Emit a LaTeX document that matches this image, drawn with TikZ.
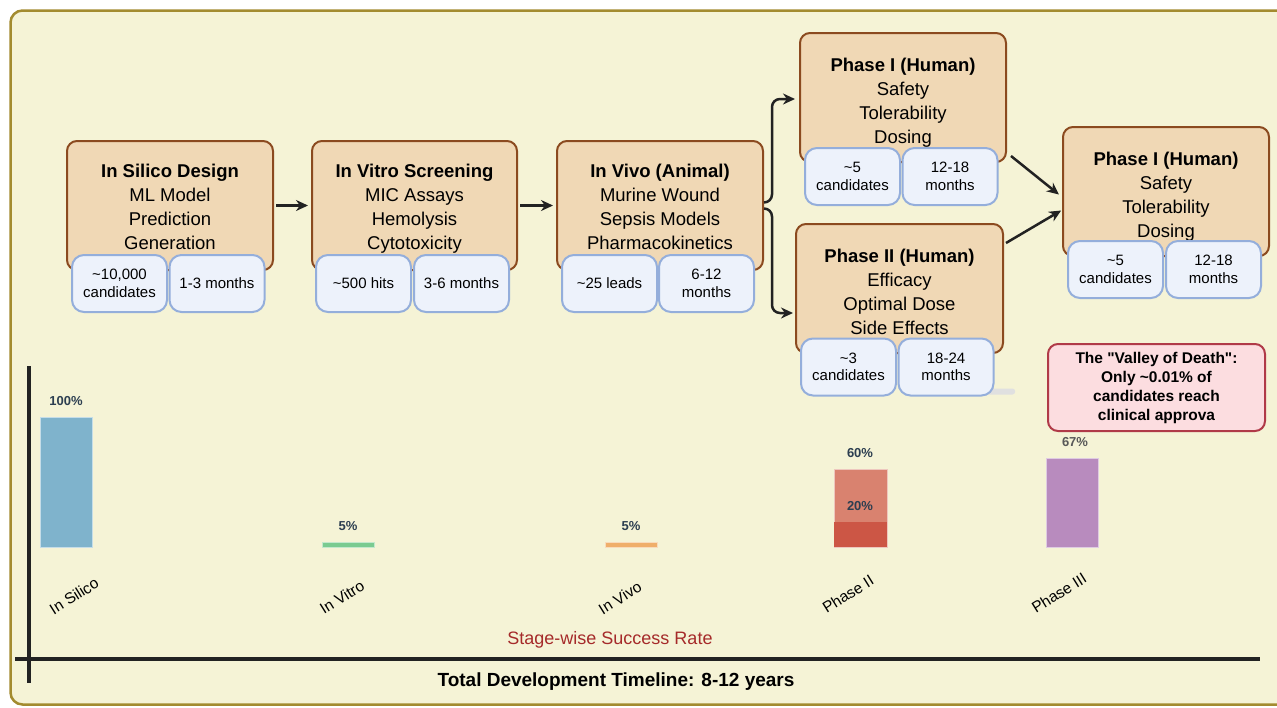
\documentclass[tikz,border=0pt]{standalone}
\usepackage{fontspec}
\setmainfont{Liberation Sans}
\usetikzlibrary{arrows.meta}

\definecolor{pagebg}{HTML}{F5F3D6}
\definecolor{framecol}{HTML}{A38B2F}
\definecolor{stagefill}{HTML}{F0D8B5}
\definecolor{stageline}{HTML}{8B4A1F}
\definecolor{subfill}{HTML}{EDF2FB}
\definecolor{subline}{HTML}{94AEDB}
\definecolor{warnfill}{HTML}{FCDDE0}
\definecolor{warnline}{HTML}{B03A48}
\definecolor{inkdark}{HTML}{222222}
\definecolor{barlabel}{HTML}{2C3E50}
\definecolor{barsilico}{HTML}{7FB3CC}
\definecolor{barvitro}{HTML}{7ACB91}
\definecolor{barvivo}{HTML}{EFAE6A}
\definecolor{barphtwo}{HTML}{D9826F}
\definecolor{barphtwodark}{HTML}{CC5645}
\definecolor{barphthree}{HTML}{B88BBE}
\definecolor{axistitle}{HTML}{A52A2A}

\begin{document}
\begin{tikzpicture}[x=1pt,y=-1pt,
  stagebox/.style={draw=stageline, fill=stagefill, line width=2pt, rounded corners=10pt,
    minimum width=206pt, minimum height=129pt, inner sep=0pt},
  stagetext/.style={align=center, inner sep=0pt, text=black, text depth=0pt,
    font=\fontsize{18.5}{24}\selectfont},
  subbox/.style={draw=subline, fill=subfill, line width=2pt, rounded corners=12pt,
    minimum width=95pt, minimum height=57pt, inner sep=0pt, align=center,
    font=\fontsize{15}{17.5}\selectfont},
  flow/.style={draw=inkdark, line width=2.5pt, -{Stealth[length=12pt,width=11pt]}},
  pct/.style={font=\bfseries\fontsize{13}{15}\selectfont, text=barlabel, inner sep=0pt},
  ticklab/.style={font=\fontsize{15.5}{18}\selectfont, rotate=32, inner sep=0pt},
  bar/.style={draw=white!55!#1, line width=0.8pt, fill=#1}
]
\useasboundingbox (0,0) rectangle (1277,707);

% panel
\draw[framecol, line width=2.5pt, fill=pagebg, rounded corners=12pt] (10.5,10.5) rectangle (1300,704.5);

% ---------- pipeline stages ----------
\node[stagebox] (silico) at (170,205.5) {};
\node[stagetext] (silicoT) at (170,207) {\textbf{In Silico Design}\\ML Model\\Prediction\\Generation};
\node[subbox] (silicoA) at (119.5,283.5) {\textasciitilde10,000\\candidates};
\node[subbox] (silicoB) at (217,283.5) {1-3 months};

\node[stagebox, minimum width=205pt] (vitro) at (414.5,205.5) {};
\node[stagetext] (vitroT) at (414.5,207) {\textbf{In Vitro Screening}\\MIC Assays\\Hemolysis\\Cytotoxicity};
\node[subbox] (vitroA) at (363.5,283.5) {\textasciitilde500 hits};
\node[subbox] (vitroB) at (461.5,283.5) {3-6 months};

\node[stagebox] (vivo) at (660,205.5) {};
\node[stagetext] (vivoT) at (660,207) {\textbf{In Vivo (Animal)}\\Murine Wound\\Sepsis Models\\Pharmacokinetics};
\node[subbox] (vivoA) at (609.5,283.5) {\textasciitilde25 leads};
\node[subbox] (vivoB) at (706.5,283.5) {6-12\\months};

\node[stagebox] (phone) at (903,97.5) {};
\node[stagetext] (phoneT) at (903,101) {\textbf{Phase I (Human)}\\Safety\\Tolerability\\Dosing};
\node[subbox] (phoneA) at (852.5,176.5) {\textasciitilde5\\candidates};
\node[subbox] (phoneB) at (950,176.5) {12-18\\months};

\node[stagebox, minimum width=207pt] (phtwo) at (899.5,288.5) {};
\node[stagetext] (phtwoT) at (899.5,292) {\textbf{Phase II (Human)}\\Efficacy\\Optimal Dose\\Side Effects};
\fill[black!12, rounded corners=2.5pt] (980,388.5) rectangle (1015,394.5);
\node[subbox] (phtwoA) at (848.5,367) {\textasciitilde3\\candidates};
\node[subbox] (phtwoB) at (946,367) {18-24\\months};

\node[stagebox] (phlast) at (1166,191.5) {};
\node[stagetext] (phlastT) at (1166,195) {\textbf{Phase I (Human)}\\Safety\\Tolerability\\Dosing};
\node[subbox] (phlastA) at (1115.5,269.5) {\textasciitilde5\\candidates};
\node[subbox] (phlastB) at (1213.5,269.5) {12-18\\months};

% warning note
\node[draw=warnline, fill=warnfill, line width=2pt, rounded corners=10pt,
  minimum width=217pt, minimum height=87pt, align=center, inner sep=0pt,
  font=\bfseries\fontsize{15.5}{19}\selectfont] (valley) at (1156.5,387.5)
  {The \textquotedbl Valley of Death\textquotedbl:\\Only \textasciitilde0.01\% of\\candidates reach\\clinical approva};

% ---------- connectors ----------
\draw[flow, shorten <=2pt, shorten >=3pt] (silico) -- (vitro);
\draw[flow, shorten <=2pt, shorten >=3pt] (vitro) -- (vivo);
\draw[flow, rounded corners=8pt, shorten >=4pt] ([yshift=3pt]vivo.east) -- ++(8,0) |- ([yshift=-1.5pt]phone.west);
\draw[flow, rounded corners=8pt, shorten >=2pt] ([yshift=-3pt]vivo.east) -- ++(8,0) |- ([yshift=-24.5pt]phtwo.west);
\draw[flow, shorten >=4pt] ([shift={(4pt,7pt)}]phone.south east) -- ([yshift=-5.5pt]phlast.west);
\draw[flow, shorten >=1pt] ([shift={(2pt,-20pt)}]phtwo.north east) -- ([yshift=-18.5pt]phlast.west);

% ---------- success-rate chart ----------
\coordinate (yaxtop) at (29,366);
\coordinate (yaxbot) at (29,683);
\coordinate (xaxl) at (15,659);
\coordinate (xaxr) at (1260,659);
\draw[inkdark, line width=3.5pt] (yaxtop) -- (yaxbot);
\draw[inkdark, line width=4pt] (xaxl) -- (xaxr);

\draw[bar=barsilico] (40,417) rectangle (92,547);
\draw[bar=barvitro] (322,542) rectangle (374,547);
\draw[bar=barvivo] (605,542) rectangle (657,547);
\draw[bar=barphtwo] (834,469) rectangle (887,547);
\fill[barphtwodark] (834.4,522) rectangle (886.6,546.6);
\draw[bar=barphthree] (1046,458) rectangle (1098,547);

\node[pct] (pctsilico) at (66,401) {100\%};
\node[pct] (pctvitro) at (348,526) {5\%};
\node[pct] (pctvivo) at (631,526) {5\%};
\node[pct] (pctphtwo) at (860,453) {60\%};
\node[pct] (pctphtwob) at (860,506) {20\%};
\node[pct, text=black!65] (pctphthree) at (1075,442) {67\%};

\node[ticklab] (tsilico) at (74,596) {In Silico};
\node[ticklab] (tvitro) at (342,597) {In Vitro};
\node[ticklab] (tvivo) at (620,598) {In Vivo};
\node[ticklab] (tphtwo) at (848,594) {Phase II};
\node[ticklab] (tphthree) at (1059,593) {Phase III};

\node[text=axistitle, font=\fontsize{18}{21}\selectfont, inner sep=0pt] (charttitle) at (610,640) {Stage-wise Success Rate};
\node[font=\bfseries\fontsize{19}{22}\selectfont, inner sep=0pt] (timeline) at (616,682) {Total Development Timeline: 8-12 years};
\end{tikzpicture}
\end{document}
